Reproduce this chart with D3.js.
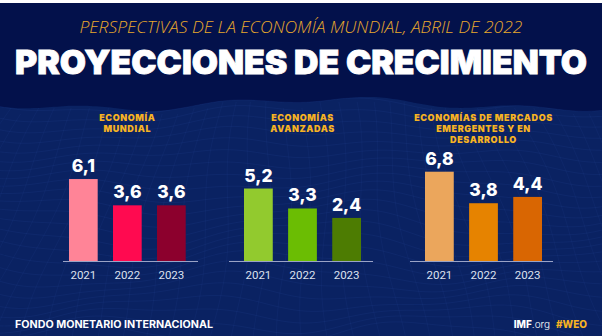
<!DOCTYPE html>
<html>
<head>
<meta charset="utf-8">
<script src="https://cdn.jsdelivr.net/npm/d3@7/dist/d3.min.js"></script>
<style>
  html, body { margin: 0; padding: 0; background: #fff; }
  svg { display: block; }
</style>
</head>
<body>
<svg id="weo" width="602" height="336"></svg>
<script>
// growth projections, percent
var years = ["2021", "2022", "2023"];
var mundial = [6.1, 3.6, 3.6];
var avanzadas = [5.2, 3.3, 2.4];
var emergentes = [6.8, 3.8, 4.4];

var titleMundial = ["ECONOMÍA", "MUNDIAL"];
var titleAvanzadas = ["ECONOMÍAS", "AVANZADAS"];
var titleEmergentes = ["ECONOMÍAS DE MERCADOS", "EMERGENTES Y EN", "DESARROLLO"];

var heavy = "Inter, Roboto, 'Noto Sans', sans-serif";

var svg = d3.select("#weo"),
    W = +svg.attr("width"),
    H = +svg.attr("height");

// background
svg.append("rect").attr("x", 0).attr("y", 0).attr("width", W).attr("height", H).attr("fill", "#ffffff");
svg.append("rect").attr("x", 0).attr("y", 3).attr("width", W).attr("height", H - 3).attr("fill", "#03114b");

// wavy wireframe in the lower part
var mesh = svg.append("g");
var meshTop = function(x) { return 104 + 5 * Math.sin(x / 70) + 3 * Math.sin(x / 23 + 1); };
var xs = d3.range(0, W + 6, 6);
mesh.append("path")
  .attr("d", d3.area().x(function(x) { return x; }).y0(H).y1(meshTop).curve(d3.curveBasis)(xs))
  .attr("fill", "#0a2262");

var rowLine = d3.line().curve(d3.curveBasis);
d3.range(0, 24).forEach(function(r) {
  var pts = xs.map(function(x) {
    var y = meshTop(x) + r * 10 + 4 * Math.sin(x / 55 + r * 0.4) * (1 + r / 12);
    return [x, Math.max(meshTop(x), y)];
  });
  mesh.append("path").attr("d", rowLine(pts))
    .attr("fill", "none").attr("stroke", "#3b5cb5").attr("stroke-width", 0.5).attr("opacity", 0.22);
});
d3.range(-6, 40).forEach(function(c) {
  var ys = d3.range(0, H + 6, 6);
  var pts = ys.map(function(y) {
    var x0 = c * 16 + (y - 100) * (c * 16 - 300) / 500;
    return [x0 + 6 * Math.sin(y / 40 + c * 0.5), y];
  }).filter(function(p) { return p[1] >= meshTop(p[0]); });
  if (pts.length > 1) {
    mesh.append("path").attr("d", rowLine(pts))
      .attr("fill", "none").attr("stroke", "#3b5cb5").attr("stroke-width", 0.5).attr("opacity", 0.18);
  }
});

// headings
svg.append("text")
  .attr("x", W / 2).attr("y", 33)
  .attr("text-anchor", "middle")
  .attr("textLength", 443).attr("lengthAdjust", "spacingAndGlyphs")
  .style("font-family", "'Open Sans', Lato, sans-serif")
  .style("font-style", "italic").style("font-weight", 300)
  .style("font-size", "15.5px").style("fill", "#e8a82b")
  .text("PERSPECTIVAS DE LA ECONOMÍA MUNDIAL, ABRIL DE 2022");

svg.append("text")
  .attr("x", W / 2).attr("y", 74)
  .attr("text-anchor", "middle")
  .attr("textLength", 572).attr("lengthAdjust", "spacingAndGlyphs")
  .style("font-family", heavy)
  .style("font-weight", 900).style("font-size", "33px").style("fill", "#ffffff")
  .style("stroke", "#ffffff").style("stroke-width", "0.8px")
  .text("PROYECCIONES DE CRECIMIENTO");

// shared value scale
var y_scale = d3.scaleLinear().domain([-1.7, 7]).range([261, 169.6]);

var panels = [
  { title: titleMundial, values: mundial, range: [69, 185.7], axis: [63, 198],
    colors: ["#ff8497", "#ff0a50", "#8c002d"] },
  { title: titleAvanzadas, values: avanzadas, range: [244, 361], axis: [229, 373],
    colors: ["#92ca2e", "#6bbd03", "#4d7c02"] },
  { title: titleEmergentes, values: emergentes, range: [425, 542], axis: [410, 553],
    colors: ["#eba65c", "#e68300", "#d96602"] }
];

panels.forEach(function(p) {
  var x_scale = d3.scaleBand().domain(years).range(p.range).paddingInner(0.348).paddingOuter(0);
  var g = svg.append("g");
  var cx = (p.range[0] + p.range[1]) / 2;

  g.selectAll(".ptitle").data(p.title).enter().append("text")
    .attr("class", "ptitle")
    .attr("x", cx).attr("y", function(d, i) { return 120.5 + i * 11; })
    .attr("text-anchor", "middle")
    .style("font-family", heavy).style("font-weight", 900)
    .style("font-size", "9px").style("letter-spacing", "0.6px")
    .style("fill", "#f6b323")
    .text(function(d) { return d; });

  g.selectAll(".bar").data(p.values).enter().append("rect")
    .attr("class", "bar")
    .attr("x", function(d, i) { return x_scale(years[i]); })
    .attr("width", x_scale.bandwidth())
    .attr("y", function(d) { return y_scale(d); })
    .attr("height", function(d) { return y_scale.range()[0] - y_scale(d); })
    .attr("fill", function(d, i) { return p.colors[i]; });

  g.selectAll(".val").data(p.values).enter().append("text")
    .attr("class", "val")
    .attr("x", function(d, i) { return x_scale(years[i]) + x_scale.bandwidth() / 2; })
    .attr("y", function(d) { return y_scale(d) - 7; })
    .attr("text-anchor", "middle")
    .style("font-family", heavy).style("font-weight", 800)
    .style("font-size", "17.5px").style("fill", "#ffffff")
    .text(function(d) { return String(d).replace(".", ","); });

  g.append("line")
    .attr("x1", p.axis[0]).attr("x2", p.axis[1])
    .attr("y1", y_scale.range()[0] + 0.5).attr("y2", y_scale.range()[0] + 0.5)
    .attr("stroke", "#9aa3c6").attr("stroke-width", 1);

  var x_axis = d3.axisBottom(x_scale).tickSize(0).tickPadding(10);
  var ax = g.append("g")
    .attr("transform", "translate(0," + y_scale.range()[0] + ")")
    .call(x_axis);
  ax.select(".domain").remove();
  ax.selectAll("text")
    .style("font-family", "Roboto, 'Open Sans', sans-serif")
    .style("font-size", "11.5px").style("fill", "#dde1ee");
});

// footer
svg.append("text")
  .attr("x", 15).attr("y", 328)
  .attr("textLength", 198).attr("lengthAdjust", "spacingAndGlyphs")
  .style("font-family", heavy).style("font-weight", 700)
  .style("font-size", "10px").style("fill", "#ffffff")
  .text("FONDO MONETARIO INTERNACIONAL");

var imf = svg.append("text")
  .attr("x", 587).attr("y", 328)
  .attr("text-anchor", "end")
  .style("font-family", heavy).style("font-size", "10px");
imf.append("tspan").style("font-weight", 800).style("fill", "#ffffff").text("IMF");
imf.append("tspan").style("font-weight", 300).style("fill", "#ffffff").text(".org");
imf.append("tspan").attr("dx", 6).style("font-weight", 800).style("fill", "#f6b323").text("#WEO");
</script>
</body>
</html>
